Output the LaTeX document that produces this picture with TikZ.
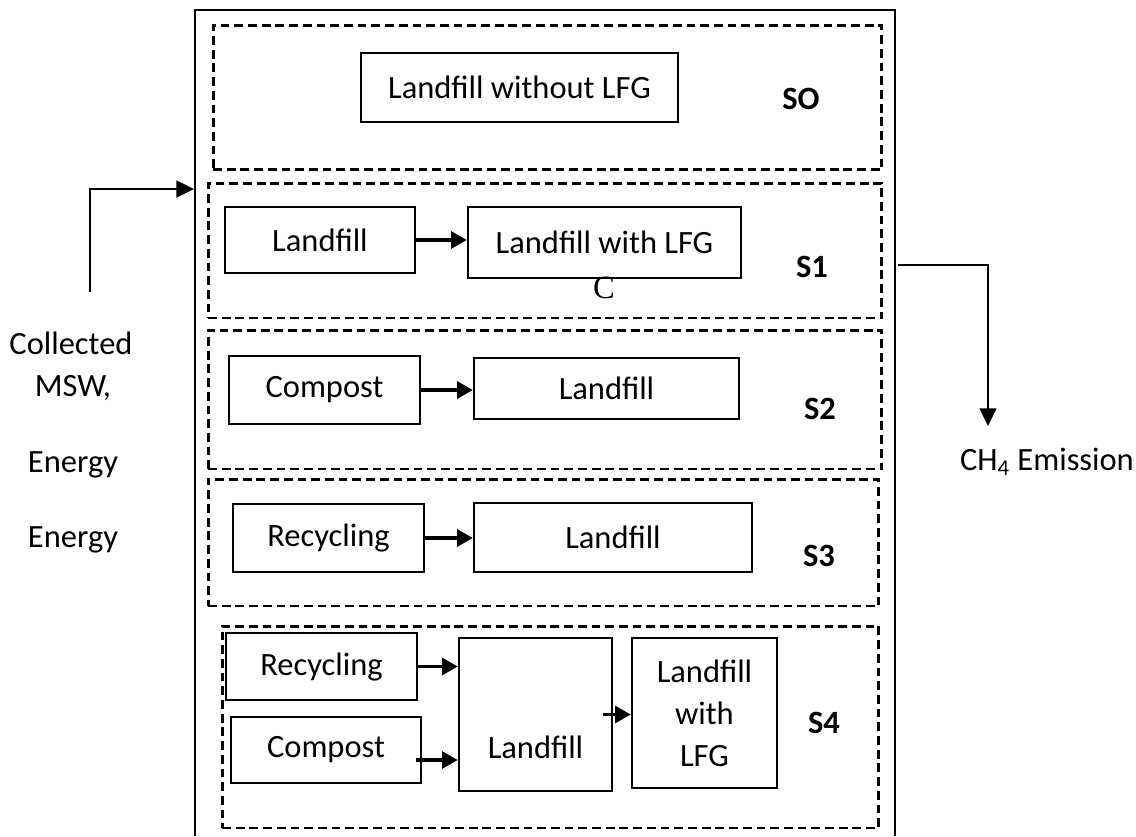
\documentclass[tikz,border=0pt]{standalone}
\usepackage{fontspec}
\setmainfont{Carlito}
\newfontfamily\serifc{Liberation Serif}
\usetikzlibrary{arrows.meta,calc}

\begin{document}
\begin{tikzpicture}[
    x=0.02cm, y=-0.02cm,
    box/.style={draw, line width=1.3pt, inner sep=0pt, align=center},
    scen/.style={draw, line width=1.7pt, dash pattern=on 5pt off 2.8pt, inner sep=0pt},
    tag/.style={font=\fontsize{18.5}{22}\selectfont\bfseries},
    flow/.style={line width=2.2pt, -{Triangle[length=9pt,width=9.5pt]}},
    wire/.style={line width=1.2pt, -{Triangle[length=10pt,width=9.5pt]}},
    every node/.style={font=\fontsize{18.5}{22}\selectfont}
  ]
  \useasboundingbox (0,0) rectangle (1136,836);

  % outer frame, open at the bottom
  \draw[line width=1.2pt] (195,836) -- (195,10) -- (895,10) -- (895,836);

  % scenario frames
  \node[scen, minimum width=13.38cm, minimum height=2.9cm] (s0) at (547.5,97.5) {};
  \node[scen, minimum width=13.48cm, minimum height=2.7cm] (s1) at (545,250.5) {};
  \node[scen, minimum width=13.48cm, minimum height=2.78cm] (s2) at (545,399.5) {};
  \node[scen, minimum width=13.42cm, minimum height=2.54cm] (s3) at (543.5,542.5) {};
  \node[scen, minimum width=13.14cm, minimum height=4.04cm] (s4) at (550.5,727) {};

  % S0
  \node[box, minimum width=6.34cm, minimum height=1.38cm] (nolfg) at (519.5,87.5) {Landfill without LFG};
  \node[tag] (t0) at (801,99) {SO};

  % S1
  \node[box, minimum width=3.8cm, minimum height=1.32cm] (lf1) at (320,240) {Landfill};
  \node[box, minimum width=5.46cm, minimum height=1.42cm] (lfg1) at (604.5,242.5) {Landfill with LFG};
  \node[font=\serifc\fontsize{18.5}{22}\selectfont] (c1) at (604,288) {C};
  \node[tag] (t1) at (812,267) {S1};
  \draw[flow] (lf1.east) -- (lf1.east -| lfg1.west);

  % S2
  \node[box, minimum width=3.82cm, minimum height=1.36cm] (comp2) at (324.5,390) {Compost};
  \node[box, minimum width=5.3cm, minimum height=1.22cm] (lf2) at (606.5,388.5) {Landfill};
  \node[tag] (t2) at (820,409) {S2};
  \draw[flow] (comp2.east) -- (comp2.east -| lf2.west);

  % S3
  \node[box, minimum width=3.82cm, minimum height=1.36cm] (rec3) at (328.5,538) {Recycling};
  \node[box, minimum width=5.56cm, minimum height=1.38cm] (lf3) at (613,537.5) {Landfill};
  \node[tag] (t3) at (819,556) {S3};
  \draw[flow] (rec3.east) -- (rec3.east -| lf3.west);

  % S4
  \node[box, minimum width=3.82cm, minimum height=1.34cm] (rec4) at (321.5,666.5) {Recycling};
  \node[box, minimum width=3.8cm, minimum height=1.32cm] (comp4) at (326,750) {Compost};
  \node[box, minimum width=3.06cm, minimum height=3.06cm,
        label={[yshift=-0.66cm]center:Landfill}] (lf4) at (535.5,714.5) {};
  \node[box, minimum width=2.9cm, minimum height=3.0cm] (lfg4) at (704.5,713) {Landfill\\[2pt]with\\[2pt]LFG};
  \node[tag] (t4) at (824,723) {S4};
  \coordinate (c4out) at ([xshift=-0.12cm, yshift=-0.2cm]comp4.east);
  \draw[flow] (rec4.east) -- (rec4.east -| lf4.west);
  \draw[flow] (c4out) -- (c4out -| lf4.west);
  \draw[flow] ([xshift=-0.2cm]lf4.east) -- (lf4.east -| lfg4.west);

  % input side
  \node (coll) at (71,343) {Collected};
  \node (msw) at (73,388) {MSW,};
  \node (en1) at (73,465) {Energy};
  \node (en2) at (73,540) {Energy};
  \coordinate (feed) at (90,292);
  \coordinate (inlet) at (194,189);
  \draw[wire] (feed) |- (inlet);

  % output side
  \node (ch4) at (1047,462) {CH\textsubscript{4} Emission};
  \coordinate (outlet) at (898,265);
  \coordinate (drop) at (988,426);
  \draw[wire] (outlet) -| (drop);
\end{tikzpicture}
\end{document}
